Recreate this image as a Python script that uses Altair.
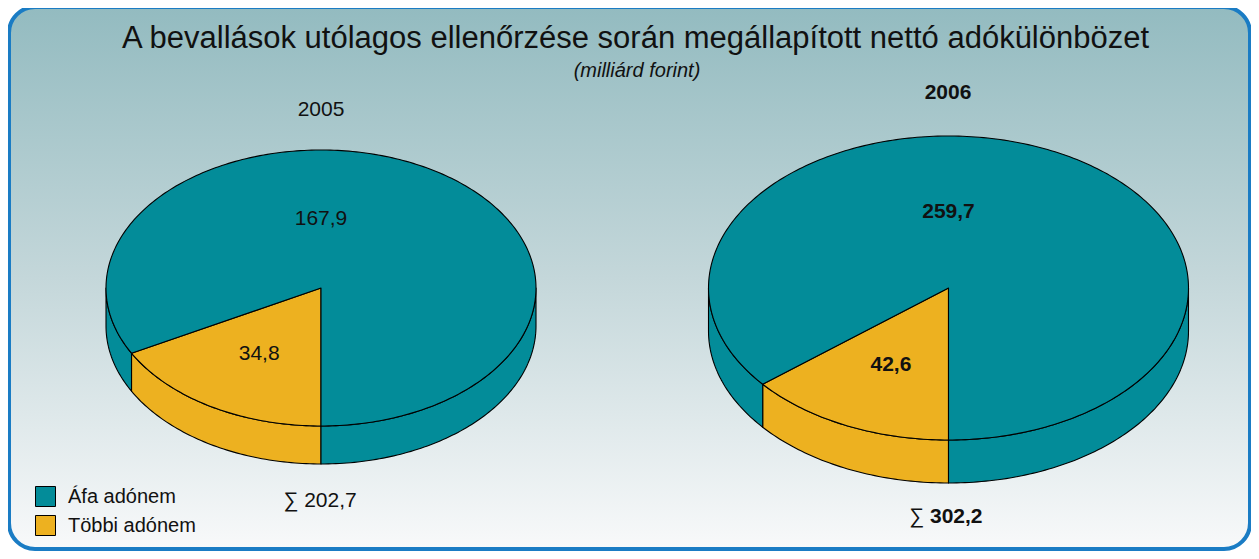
import math
import altair as alt
import pandas as pd

# ---------------- data ----------------
years = ["2005", "2006"]
categories = ["Áfa adónem", "Többi adónem"]
values_2005 = [167.9, 34.8]
values_2006 = [259.7, 42.6]
totals = ["202,7", "302,2"]

colors = ["#038c99", "#edb120"]
FONT = "Liberation Sans"

W, H = 1243, 543
# layout of each pie: centre x, centre y, radius x, radius y, depth
pie_layout = {"2005": (313, 280, 215, 138, 38), "2006": (940.5, 280, 240, 152, 43)}


def fmt(v):
    return f"{v:.1f}".replace(".", ",")


def arc_pts(cx, cy, rx, ry, a1, a2, dy=0.0):
    n = max(2, int(abs(a2 - a1) / math.radians(1)) + 2)
    out = []
    for i in range(n):
        a = a1 + (a2 - a1) * i / (n - 1)
        out.append([cx + rx * math.cos(a), cy + dy + ry * math.sin(a)])
    return out


top_features, side_features, labels = [], [], []
for year, vals in zip(years, [values_2005, values_2006]):
    cx, cy, rx, ry, d = pie_layout[year]
    total = sum(vals)
    start = math.pi / 2  # six o'clock, going clockwise
    for cat, v in reversed(list(zip(categories, vals))):
        sweep = 2 * math.pi * v / total
        a1, a2 = start, start + sweep
        start = a2
        ring = [[cx, cy]] + arc_pts(cx, cy, rx, ry, a1, a2) + [[cx, cy]]
        top_features.append({"type": "Feature", "properties": {"cat": cat, "year": year},
                             "geometry": {"type": "Polygon", "coordinates": [ring]}})
        for lo, hi in [(0, math.pi), (2 * math.pi, 3 * math.pi)]:
            b1, b2 = max(a1, lo), min(a2, hi)
            if b2 - b1 > 1e-6:
                upper = arc_pts(cx, cy, rx, ry, b1, b2)
                lower = arc_pts(cx, cy, rx, ry, b2, b1, dy=d)
                sring = upper + lower + [upper[0]]
                side_features.append({"type": "Feature", "properties": {"cat": cat, "year": year},
                                      "geometry": {"type": "Polygon", "coordinates": [sring]}})
        if v / total > 0.5:
            la, k = -math.pi / 2, 0.5
        else:
            la, k = (a1 + a2) / 2, 0.56
        labels.append({"year": year, "cat": cat, "label": fmt(v),
                       "lon": cx + k * rx * math.cos(la), "lat": cy + k * ry * math.sin(la)})

labels_df = pd.DataFrame(labels)
one = pd.DataFrame({"a": [0]})

color_scale = alt.Scale(domain=categories, range=colors)
legend = alt.Legend(title=None, orient="none", legendX=27, legendY=478, symbolType="square",
                    symbolSize=400, symbolStrokeColor="black", symbolStrokeWidth=1,
                    symbolOpacity=1, labelFont=FONT, labelFontSize=20, labelColor="#111",
                    labelOffset=12, rowPadding=4, padding=0)

proj = dict(type="identity", scale=1, translate=[0, 0])

bg = alt.Chart(one).mark_rect(
    fill=alt.Gradient(gradient="linear", x1=0, x2=0, y1=0, y2=1,
                      stops=[alt.GradientStop(color="#93bbc0", offset=0),
                             alt.GradientStop(color="#c4d7da", offset=0.5),
                             alt.GradientStop(color="#f8f9fa", offset=1)]),
    stroke="#1a7cc4", strokeWidth=4, cornerRadius=26,
).encode(x=alt.value(1), x2=alt.value(1242), y=alt.value(-1), y2=alt.value(541))

sides = alt.Chart(alt.Data(values=side_features)).mark_geoshape(
    stroke="black", strokeWidth=1.1, strokeJoin="round"
).encode(color=alt.Color("properties.cat:N", scale=color_scale, legend=legend)).project(**proj)

tops = alt.Chart(alt.Data(values=top_features)).mark_geoshape(
    stroke="black", strokeWidth=1.1, strokeJoin="round"
).encode(color=alt.Color("properties.cat:N", scale=color_scale, legend=legend)).project(**proj)

lab05 = alt.Chart(labels_df).transform_filter(alt.datum.year == "2005").mark_text(
    font=FONT, fontSize=21, color="#111", baseline="middle", align="center"
).encode(longitude="lon:Q", latitude="lat:Q", text="label:N").project(**proj)

lab06 = alt.Chart(labels_df).transform_filter(alt.datum.year == "2006").mark_text(
    font=FONT, fontSize=21, fontWeight="bold", color="#111", baseline="middle", align="center"
).encode(longitude="lon:Q", latitude="lat:Q", text="label:N").project(**proj)


def txt(s, x, y, size=21, weight="normal", style="normal", align="center"):
    return alt.Chart(one).mark_text(
        text=s, font=FONT, fontSize=size, fontWeight=weight, fontStyle=style,
        align=align, baseline="alphabetic", color="#111"
    ).encode(x=alt.value(x), y=alt.value(y))


texts = [
    txt("A bevallások utólagos ellenőrzése során megállapított nettó adókülönbözet", 627.5, 40, size=31),
    txt("(milliárd forint)", 629, 69, size=20, style="italic"),
    txt(years[0], 313, 108),
    txt(years[1], 940, 91, weight="bold"),
    txt("∑ " + totals[0], 312, 499),
    txt("∑", 901, 515, align="left"),
    txt(totals[1], 922, 515, weight="bold", align="left"),
]

chart = alt.layer(bg, sides, tops, lab05, lab06, *texts).properties(
    width=W, height=H, padding=0, autosize="none"
).configure_view(stroke=None)

chart.save("out.html", embed_options={"renderer": "svg", "actions": False})
